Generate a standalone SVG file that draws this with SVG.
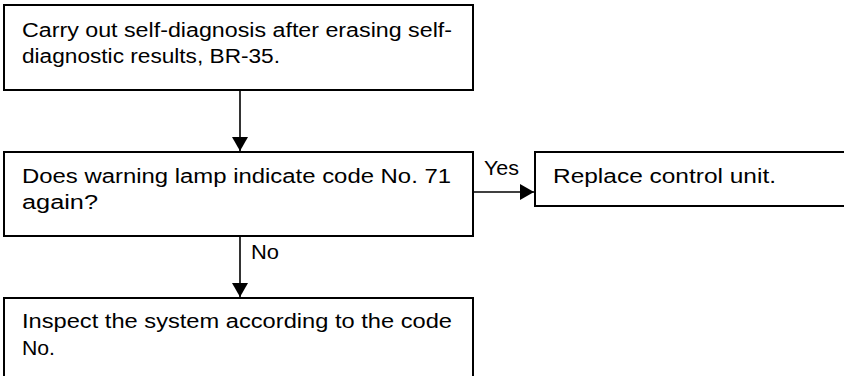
<svg xmlns="http://www.w3.org/2000/svg" width="844" height="376" viewBox="0 0 844 376">
<style>
.box{fill:#fff;stroke:#000;stroke-width:2}
.t{font-family:"Liberation Sans",Arial,sans-serif;font-size:19.5px;fill:#000}
.c{stroke:#000;stroke-width:1.6;fill:none}
</style>
<defs>
<marker id="ah" viewBox="0 0 14 16" refX="14" refY="8" markerWidth="14" markerHeight="16" markerUnits="userSpaceOnUse" orient="auto">
<path d="M0,0 L14,8 L0,16 Z" fill="#000"/>
</marker>
</defs>
<rect width="844" height="376" fill="#fff"/>
<g id="n1">
<rect class="box" x="4" y="5" width="469" height="85"/>
<text class="t" x="22" y="37" textLength="430" lengthAdjust="spacingAndGlyphs">Carry out self-diagnosis after erasing self-</text>
<text class="t" x="22" y="63" textLength="258" lengthAdjust="spacingAndGlyphs">diagnostic results, BR-35.</text>
</g>
<g id="n2">
<rect class="box" x="4" y="152" width="469" height="84"/>
<text class="t" x="22" y="183" textLength="429" lengthAdjust="spacingAndGlyphs">Does warning lamp indicate code No. 71</text>
<text class="t" x="22" y="209" textLength="76" lengthAdjust="spacingAndGlyphs">again?</text>
</g>
<g id="n3">
<rect class="box" x="535" y="152" width="312" height="54"/>
<text class="t" x="553" y="183" textLength="223" lengthAdjust="spacingAndGlyphs">Replace control unit.</text>
</g>
<g id="n4">
<rect class="box" x="4" y="298" width="469" height="80"/>
<text class="t" x="22" y="328" textLength="430" lengthAdjust="spacingAndGlyphs">Inspect the system according to the code</text>
<text class="t" x="22" y="355" textLength="33" lengthAdjust="spacingAndGlyphs">No.</text>
</g>
<g id="connectors">
<line class="c" x1="240" y1="90" x2="240" y2="151" marker-end="url(#ah)"/>
<line class="c" x1="240" y1="236" x2="240" y2="297" marker-end="url(#ah)"/>
<line class="c" x1="473" y1="192" x2="534" y2="192" marker-end="url(#ah)"/>
<text class="t" x="251" y="259" textLength="28" lengthAdjust="spacingAndGlyphs">No</text>
<text class="t" x="484" y="175" textLength="35" lengthAdjust="spacingAndGlyphs">Yes</text>
</g>
</svg>
